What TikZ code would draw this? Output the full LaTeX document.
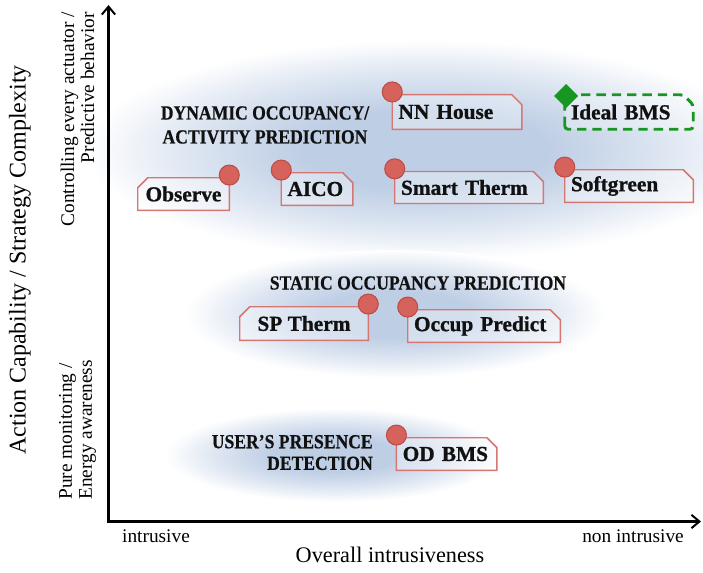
\documentclass[tikz,border=0pt]{standalone}
\usepackage{fontspec}
\setmainfont{Liberation Serif}
\newfontfamily\headfam[FakeStretch=0.88, FakeBold=0.6]{Liberation Serif Bold}
\newfontfamily\tagfam[FakeBold=0.9]{Liberation Serif Bold}
\usetikzlibrary{arrows.meta}

\definecolor{blobc}{RGB}{190,206,229}
\definecolor{tagred}{RGB}{214,118,112}
\definecolor{pinred}{RGB}{214,98,92}
\definecolor{pinedge}{RGB}{190,76,70}
\definecolor{idealgreen}{RGB}{24,150,34}
\definecolor{inkc}{RGB}{17,17,17}

% soft blue cloud behind each group
\pgfdeclareradialshading{cloud}{\pgfpoint{0bp}{0bp}}{%
  color(0bp)=(blobc); color(9bp)=(blobc); color(17bp)=(blobc!55!white);
  color(25bp)=(white); color(50bp)=(white)}

\pgfdeclarelayer{clouds}
\pgfdeclarelayer{frames}
\pgfsetlayers{clouds,frames,main}

\newcommand\tagfont{\tagfam\fontsize{16}{19}\selectfont}
\newcommand\smallfont{\fontsize{14.5}{15}\selectfont}

\tikzset{
  head/.style={text=inkc, inner sep=0pt},
  tag/.style={font=\tagfont, text=inkc, inner xsep=4.5pt, inner ysep=0pt,
              minimum height=24pt, align=left},
  tagline/.style={draw=tagred, line width=1.1pt, fill=white, fill opacity=0.35},
  idealline/.style={draw=idealgreen, line width=2.2pt, dash pattern=on 7pt off 4.5pt,
                    rounded corners=2.5pt, fill=white, fill opacity=0.3},
  pin/.style={fill=pinred, draw=pinedge, line width=0.8pt},
  axis/.style={line width=1.8pt, black,
               {Straight Barb[length=6pt,width=10pt,line width=1.5pt]}-{Straight Barb[length=6pt,width=10pt,line width=1.5pt]}},
  axlab/.style={font=\smallfont, inner sep=0pt}
}

% outline with chamfered top-right corner
\newcommand\frameR[1]{%
  \begin{pgfonlayer}{frames}
  \draw[tagline] (#1.south west) -- (#1.north west) -- ([xshift=-7.5pt]#1.north east)
     -- ([yshift=-7.5pt]#1.north east) -- (#1.south east) -- cycle;
  \end{pgfonlayer}}
% outline with chamfered top-left corner
\newcommand\frameL[1]{%
  \begin{pgfonlayer}{frames}
  \draw[tagline] (#1.south east) -- (#1.north east) -- ([xshift=7.5pt]#1.north west)
     -- ([yshift=-7.5pt]#1.north west) -- (#1.south west) -- cycle;
  \end{pgfonlayer}}
\newcommand\pinat[1]{\draw[pin] ([yshift=2pt]#1) circle (7.5pt);}

\begin{document}
\begin{tikzpicture}[x=0.75pt, y=-0.75pt]
\useasboundingbox (0,0) rectangle (703,572);

% clouds
\begin{pgfonlayer}{clouds}
\begin{scope}
  \clip (0,0) rectangle (703,572);
  \shade[shading=cloud] (425,150) ellipse [x radius=340, y radius=110];
  \shade[shading=cloud] (395,314) ellipse [x radius=210, y radius=64];
  \shade[shading=cloud] (335,455) ellipse [x radius=170, y radius=47];
\end{scope}
\end{pgfonlayer}

% axes
\coordinate (origin) at (108.5,521.5);
\coordinate (ytip) at (108.5,5);
\coordinate (xtip) at (701,521.5);
\draw[axis] (ytip) -- (origin) -- (xtip);

% axis texts
\node[rotate=90, font=\fontsize{18}{22}\selectfont, inner sep=0pt] (ytitle) at (20,260)
  {Action Capability / Strategy Complexity};
\node[axlab, rotate=90, anchor=east, align=right] (yhigh) at (77.5,12)
  {Controlling every actuator /\\Predictive behavior};
\node[axlab, rotate=90, anchor=west, align=left] (ylow) at (77.5,500)
  {Pure monitoring /\\Energy awareness};
\node[axlab] (xlow) at (156,536) {intrusive};
\node[axlab] (xhigh) at (633,536) {non intrusive};
\node[font=\fontsize{16.7}{20}\selectfont, inner sep=0pt] (xtitle) at (390,555)
  {Overall intrusiveness};

% group headings
\node[head, align=center, font=\headfam\fontsize{15}{18}\selectfont] (dyn) at (265,125)
  {DYNAMIC OCCUPANCY/\\ACTIVITY PREDICTION};
\node[head, font=\headfam\fontsize{15}{18}\selectfont] (stat) at (418,283) {STATIC OCCUPANCY PREDICTION};
\node[head, align=right, anchor=east, font=\headfam\fontsize{15}{16.2}\selectfont] (pres) at (373,452.5)
  {USER’S PRESENCE\\DETECTION};

% strategies
\node[tag, minimum width=68.25pt, align=center] (observe) at (183.5,194) {Observe};
\node[tag, text width=44.25pt] (aico) at (317,189) {AICO};
\node[tag, text width=87.75pt, minimum height=25.7pt] (nnhouse) at (457,112) {NN House};
\node[tag, text width=87pt, minimum height=25.5pt] (ideal) at (629,112) {Ideal BMS};
\node[tag, text width=102pt, minimum height=23.6pt] (smart) at (469,187.5) {Smart Therm};
\node[tag, text width=87pt] (soft) at (629,186) {Softgreen};
\node[tag, minimum width=96pt, minimum height=24.75pt, align=center] (sptherm) at (304,323.5) {SP Therm};
\node[tag, text width=105pt] (occup) at (484,326) {Occup Predict};
\node[tag, text width=66pt] (odbms) at (446.7,454) {OD BMS};

\frameL{observe}
\frameR{aico}
\frameR{nnhouse}
\frameR{smart}
\frameR{soft}
\frameL{sptherm}
\frameR{occup}
\frameR{odbms}
\begin{pgfonlayer}{frames}
\draw[idealline] (ideal.south west) -- (ideal.north west) -- ([xshift=-7.5pt]ideal.north east)
   -- ([yshift=-7.5pt]ideal.north east) -- (ideal.south east) -- cycle;
\end{pgfonlayer}

\pinat{observe.north east}
\pinat{aico.north west}
\pinat{nnhouse.north west}
\pinat{smart.north west}
\pinat{soft.north west}
\pinat{sptherm.north east}
\pinat{occup.north west}
\pinat{odbms.north west}
\fill[idealgreen] ([xshift=1pt,yshift=-1pt]ideal.north west) +(0,9pt) -- +(9pt,0) -- +(0,-9pt) -- +(-9pt,0) -- cycle;
\end{tikzpicture}
\end{document}
